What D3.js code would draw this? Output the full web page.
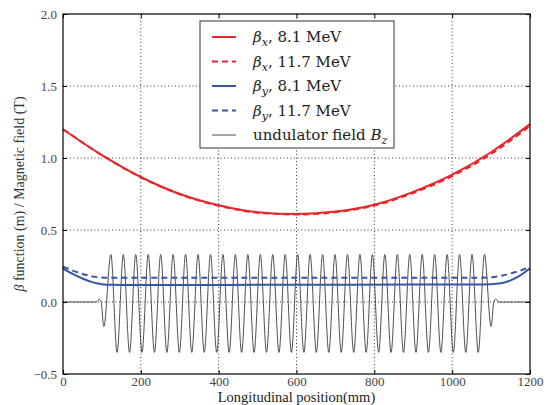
<!DOCTYPE html>
<html>
<head>
<meta charset="utf-8">
<script src="https://cdn.jsdelivr.net/npm/d3@7"></script>
<style>
  body { margin: 0; background: #fff; }
</style>
</head>
<body>
<svg id="chart" width="547" height="405"></svg>
<script>
const betaPos = [0, 100, 200, 300, 400, 500, 600, 700, 800, 900, 1000, 1100, 1200];
const betaX81 = [1.20, 1.02, 0.868, 0.75, 0.672, 0.624, 0.611, 0.628, 0.676, 0.765, 0.884, 1.04, 1.235];
const betaX117 = [1.20, 1.02, 0.866, 0.748, 0.668, 0.62, 0.608, 0.623, 0.67, 0.757, 0.874, 1.028, 1.222];

// vertical beta functions, denser sampling near the ends
const betaYPos = [0, 25, 50, 75, 100, 125, 150, 300, 600, 900, 1050, 1100, 1125, 1150, 1175, 1200];
const betaY81 = [0.232, 0.195, 0.163, 0.138, 0.124, 0.119, 0.118, 0.118, 0.12, 0.121, 0.122, 0.124, 0.13, 0.15, 0.185, 0.235];
const betaY117 = [0.245, 0.218, 0.195, 0.178, 0.17, 0.168, 0.168, 0.168, 0.168, 0.168, 0.168, 0.172, 0.182, 0.198, 0.218, 0.242];

// undulator field (T): extrema of the on-axis field
const fieldPos = [0, 85, 93, 98, 105,
  123, 139, 155, 171, 187, 203, 219, 235, 251, 267, 283, 299, 315, 331, 347, 363,
  379, 395, 411, 427, 443, 459, 475, 491, 507, 523, 539, 555, 571, 587, 603, 619,
  635, 651, 667, 683, 699, 715, 731, 747, 763, 779, 795, 811, 827, 843, 859, 875,
  891, 907, 923, 939, 955, 971, 987, 1003, 1019, 1035, 1051, 1067, 1083,
  1100, 1107, 1112, 1120, 1200];
const fieldB = [0, 0, 0.02, 0, -0.17,
  0.33, -0.35, 0.33, -0.35, 0.33, -0.35, 0.33, -0.35, 0.33, -0.35, 0.33, -0.35, 0.33, -0.35, 0.33, -0.35,
  0.33, -0.35, 0.33, -0.35, 0.33, -0.35, 0.33, -0.35, 0.33, -0.35, 0.33, -0.35, 0.33, -0.35, 0.33, -0.35,
  0.33, -0.35, 0.33, -0.35, 0.33, -0.35, 0.33, -0.35, 0.33, -0.35, 0.33, -0.35, 0.33, -0.35, 0.33, -0.35,
  0.33, -0.35, 0.33, -0.35, 0.33, -0.35, 0.33, -0.35, 0.33, -0.35, 0.33, -0.35, 0.33,
  -0.17, 0, 0.02, 0, 0];

const xTicks = [0, 200, 400, 600, 800, 1000, 1200];
const yTicks = [-0.5, 0.0, 0.5, 1.0, 1.5, 2.0];

const red = "#e8262a", blue = "#3555a8";
const serif = "'Liberation Serif', 'DejaVu Serif', serif";
const wideSerif = "'DejaVu Serif', 'Liberation Serif', serif";

const svg = d3.select("#chart").style("font-family", serif);
const margin = {left: 63, right: 17, top: 14, bottom: 31};
const W = 547 - margin.left - margin.right;
const H = 405 - margin.top - margin.bottom;

const x = d3.scaleLinear().domain([0, 1200]).range([0, W]);
const y = d3.scaleLinear().domain([-0.5, 2.0]).range([H, 0]);

const g = svg.append("g").attr("transform", `translate(${margin.left},${margin.top})`);

// dotted grid
g.append("g").selectAll("line.gx").data(xTicks.slice(1, -1)).enter().append("line")
  .attr("x1", d => x(d)).attr("x2", d => x(d)).attr("y1", 0).attr("y2", H)
  .attr("stroke", "#000").attr("stroke-width", 0.8).attr("stroke-dasharray", "1,2.5");
g.append("g").selectAll("line.gy").data(yTicks.slice(1, -1)).enter().append("line")
  .attr("y1", d => y(d)).attr("y2", d => y(d)).attr("x1", 0).attr("x2", W)
  .attr("stroke", "#000").attr("stroke-width", 0.8).attr("stroke-dasharray", "1,2.5");

const line = (xs, ys, curve) => d3.line()
  .x((d, i) => x(xs[i])).y(d => y(d)).curve(curve)(ys);

// undulator field
g.append("path").attr("d", line(fieldPos, fieldB, d3.curveMonotoneX))
  .attr("fill", "none").attr("stroke", "#3a3a3a").attr("stroke-width", 0.9);

// beta functions
const series = [
  {xs: betaYPos, ys: betaY81, color: blue, dash: null},
  {xs: betaYPos, ys: betaY117, color: blue, dash: "6,4"},
  {xs: betaPos, ys: betaX81, color: red, dash: null},
  {xs: betaPos, ys: betaX117, color: red, dash: "6,4"}
];
series.forEach(s => {
  g.append("path").attr("d", line(s.xs, s.ys, d3.curveMonotoneX))
    .attr("fill", "none").attr("stroke", s.color).attr("stroke-width", 2)
    .attr("stroke-dasharray", s.dash);
});

// axes: frame, inward ticks, labels
const fmtY = d => d3.format(".1f")(d).replace("-", "\u2212");
const axisB = d3.axisBottom(x).tickValues(xTicks).tickSize(-4).tickPadding(3).tickFormat(d3.format("d"));
const axisT = d3.axisTop(x).tickValues(xTicks).tickSize(-4).tickFormat("");
const axisL = d3.axisLeft(y).tickValues(yTicks).tickSize(-4).tickPadding(6).tickFormat(fmtY);
const axisR = d3.axisRight(y).tickValues(yTicks).tickSize(-4).tickFormat("");

const styleAxis = sel => {
  sel.attr("font-family", serif).attr("font-size", 13);
  sel.select(".domain").remove();
  sel.selectAll(".tick line").attr("stroke", "#000");
  sel.selectAll("text").attr("fill", "#444").style("font-family", serif).style("font-size", "13px");
};
g.append("g").attr("transform", `translate(0,${H})`).call(axisB).call(styleAxis);
g.append("g").call(axisT).call(styleAxis);
g.append("g").call(axisL).call(styleAxis);
g.append("g").attr("transform", `translate(${W},0)`).call(axisR).call(styleAxis);

g.append("rect").attr("width", W).attr("height", H)
  .attr("fill", "none").attr("stroke", "#000").attr("stroke-width", 1.2);

svg.append("text").attr("x", margin.left + W / 2).attr("y", 402)
  .attr("text-anchor", "middle").attr("fill", "#222")
  .style("font-family", serif).style("font-size", "14.5px")
  .text("Longitudinal position(mm)");

const yl = svg.append("text")
  .attr("transform", `translate(24,${margin.top + H / 2}) rotate(-90)`)
  .attr("text-anchor", "middle").attr("fill", "#333")
  .style("font-family", serif).style("font-size", "14px");
yl.append("tspan").attr("font-style", "italic").text("β");
yl.append("tspan").text(" function (m) / Magnetic field (T)");

// legend
const legendItems = [
  {sym: "β", sub: "x", rest: ", 8.1 MeV", color: red, dash: null, w: 2},
  {sym: "β", sub: "x", rest: ", 11.7 MeV", color: red, dash: "6,4", w: 2},
  {sym: "β", sub: "y", rest: ", 8.1 MeV", color: blue, dash: null, w: 2},
  {sym: "β", sub: "y", rest: ", 11.7 MeV", color: blue, dash: "6,4", w: 2},
  {pre: "undulator field ", sym: "B", sub: "z", rest: "", color: "#3a3a3a", dash: null, w: 0.9}
];
const lg = svg.append("g").attr("transform", "translate(200,21)");
lg.append("rect").attr("width", 194).attr("height", 127)
  .attr("fill", "#fff").attr("stroke", "#333").attr("stroke-width", 1);
const rows = lg.selectAll("g.row").data(legendItems).enter().append("g")
  .attr("transform", (d, i) => `translate(0,${16 + i * 24.5})`);
rows.append("line").attr("x1", 12).attr("x2", 36).attr("y1", 0).attr("y2", 0)
  .attr("stroke", d => d.color).attr("stroke-width", d => d.w)
  .attr("stroke-dasharray", d => d.dash);
const lt = rows.append("text").attr("x", 53).attr("y", 5)
  .attr("fill", "#222").style("font-family", wideSerif).style("font-size", "15px");
lt.filter(d => d.pre).append("tspan").text(d => d.pre);
lt.append("tspan").attr("font-style", "italic").text(d => d.sym);
lt.append("tspan").attr("font-style", "italic").attr("dy", 4).style("font-size", "11px").text(d => d.sub);
lt.append("tspan").attr("dy", -4).text(d => d.rest);
</script>
</body>
</html>
